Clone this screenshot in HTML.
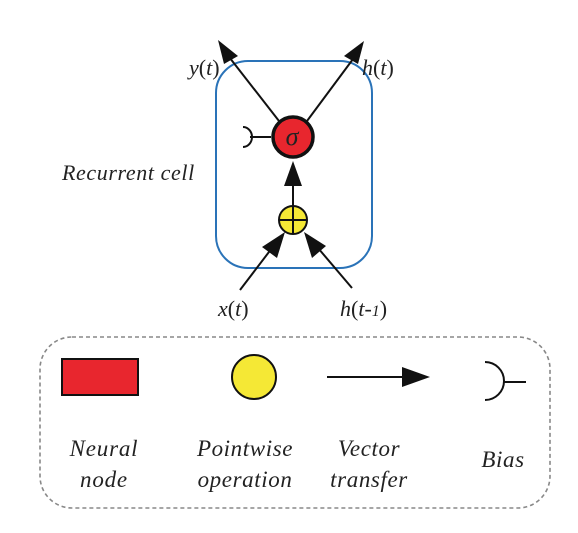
<!DOCTYPE html>
<html><head><style>
html,body{margin:0;padding:0;background:#fff;}
svg text{font-family:"Liberation Serif",serif;font-style:italic;fill:#222;}
svg tspan.u{font-style:normal;}
</style></head><body>
<svg width="578" height="528" viewBox="0 0 578 528" xmlns="http://www.w3.org/2000/svg">
<rect x="216" y="61" width="156" height="207" rx="32" fill="none" stroke="#2a73b8" stroke-width="2"/>
<line x1="279" y1="121" x2="226" y2="53" stroke="#111" stroke-width="2"/>
<polygon points="218,40 238,56 224,64" fill="#111"/>
<line x1="307" y1="121" x2="356" y2="55" stroke="#111" stroke-width="2"/>
<polygon points="364,41 358,64 344,56" fill="#111"/>
<line x1="250" y1="137" x2="271" y2="137" stroke="#111" stroke-width="2"/>
<path d="M243,127 A9,10 0 0 1 243,147" fill="none" stroke="#111" stroke-width="2"/>
<circle cx="293" cy="137" r="20" fill="#e8262e" stroke="#111" stroke-width="3.5"/>
<text x="292" y="145" font-size="26" text-anchor="middle" fill="#111">σ</text>
<line x1="293" y1="206" x2="293" y2="180" stroke="#111" stroke-width="2"/>
<polygon points="293,161 284,186 302,186" fill="#111"/>
<circle cx="293" cy="220" r="14" fill="#f5e835" stroke="#111" stroke-width="2"/>
<line x1="279" y1="220" x2="307" y2="220" stroke="#111" stroke-width="2"/>
<line x1="293" y1="206" x2="293" y2="234" stroke="#111" stroke-width="2"/>
<line x1="240" y1="290" x2="272" y2="248" stroke="#111" stroke-width="2"/>
<polygon points="285,232 277,258 262,247" fill="#111"/>
<line x1="352" y1="288" x2="318" y2="248" stroke="#111" stroke-width="2"/>
<polygon points="304,232 326,246 312,258" fill="#111"/>
<text x="189" y="75" font-size="22">y<tspan class="u">(</tspan>t<tspan class="u">)</tspan></text>
<text x="362" y="75" font-size="22">h<tspan class="u">(</tspan>t<tspan class="u">)</tspan></text>
<text x="62" y="180" font-size="22" letter-spacing="0.6">Recurrent cell</text>
<text x="218" y="316" font-size="22">x<tspan class="u">(</tspan>t<tspan class="u">)</tspan></text>
<text x="340" y="316" font-size="22">h<tspan class="u">(</tspan>t-<tspan font-size="16">1</tspan><tspan class="u">)</tspan></text>
<rect x="40" y="337" width="510" height="171" rx="32" fill="none" stroke="#888" stroke-width="1.6" stroke-dasharray="4,3"/>
<rect x="62" y="359" width="76" height="36" fill="#e8262e" stroke="#111" stroke-width="2"/>
<circle cx="254" cy="377" r="22" fill="#f5e835" stroke="#111" stroke-width="2"/>
<line x1="327" y1="377" x2="405" y2="377" stroke="#111" stroke-width="2"/>
<polygon points="430,377 402,367 402,387" fill="#111"/>
<path d="M485,362 A19,19 0 0 1 485,400" fill="none" stroke="#111" stroke-width="2"/>
<line x1="503" y1="382" x2="526" y2="382" stroke="#111" stroke-width="2"/>
<text x="104" y="456" font-size="23" letter-spacing="0.8" text-anchor="middle">Neural</text>
<text x="104" y="487" font-size="23" letter-spacing="0.8" text-anchor="middle">node</text>
<text x="245" y="456" font-size="23" letter-spacing="0.6" text-anchor="middle">Pointwise</text>
<text x="245" y="487" font-size="23" letter-spacing="0.6" text-anchor="middle">operation</text>
<text x="369" y="456" font-size="23" letter-spacing="0.6" text-anchor="middle">Vector</text>
<text x="369" y="487" font-size="23" letter-spacing="0.6" text-anchor="middle">transfer</text>
<text x="503" y="467" font-size="23" letter-spacing="0.6" text-anchor="middle">Bias</text>
</svg>
</body></html>
